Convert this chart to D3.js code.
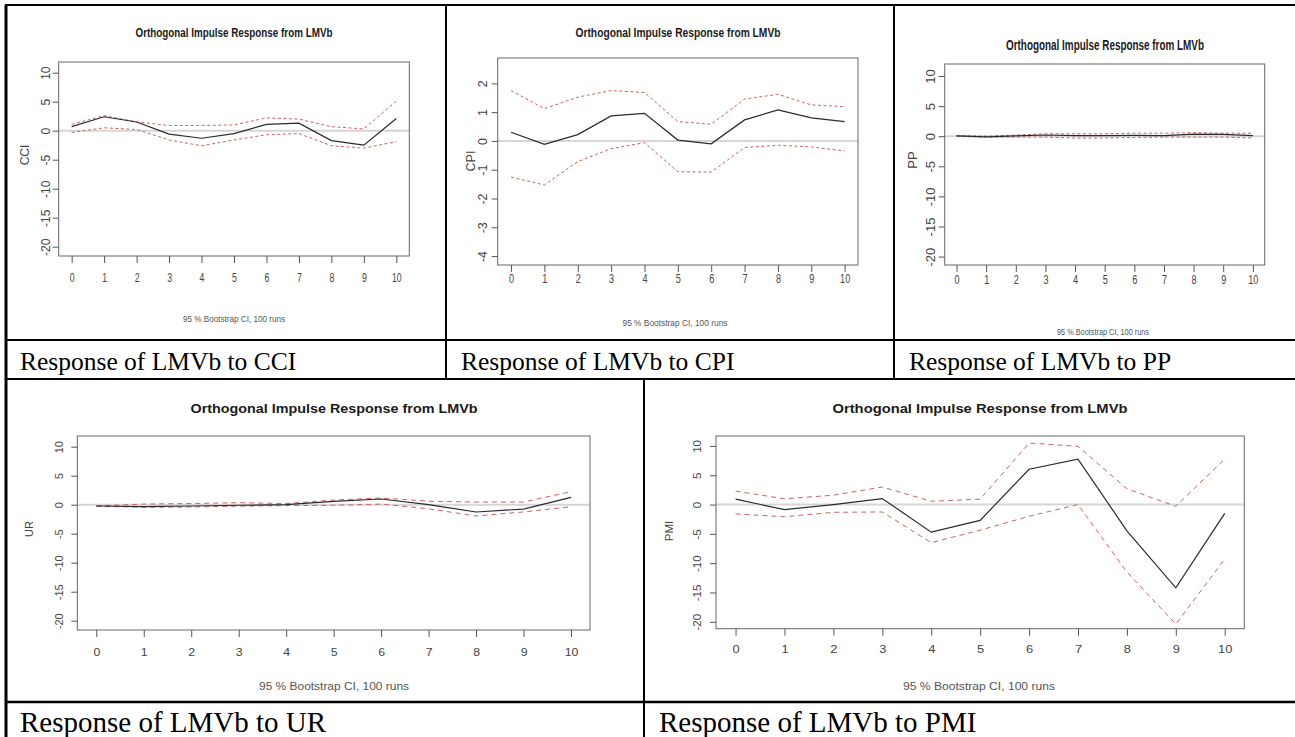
<!DOCTYPE html>
<html>
<head>
<meta charset="utf-8">
<script src="https://cdn.jsdelivr.net/npm/d3@7"></script>
<style>
  body { margin: 0; background: #fff; }
  svg { display: block; }
</style>
</head>
<body>
<svg id="chart" width="1295" height="737"></svg>
<script>
// impulse response horizons (x axis)
var horizon = [0, 1, 2, 3, 4, 5, 6, 7, 8, 9, 10];

// response of LMVb to CCI
var cciIrf   = [0.7, 2.4, 1.5, -0.6, -1.3, -0.5, 1.1, 1.3, -1.7, -2.5, 2.1];
var cciUpper = [1.1, 2.6, 1.5, 0.9, 0.9, 1.0, 2.2, 2.0, 0.7, 0.3, 5.1];
var cciLower = [-0.3, 0.5, 0.2, -1.6, -2.6, -1.6, -0.7, -0.5, -2.6, -3.0, -1.9];

// response of LMVb to CPI
var cpiIrf   = [0.30, -0.12, 0.22, 0.87, 0.96, 0.03, -0.10, 0.73, 1.08, 0.80, 0.67];
var cpiUpper = [1.75, 1.12, 1.52, 1.75, 1.68, 0.67, 0.58, 1.45, 1.62, 1.25, 1.19];
var cpiLower = [-1.26, -1.53, -0.72, -0.27, -0.06, -1.07, -1.08, -0.23, -0.15, -0.21, -0.35];

// response of LMVb to PP
var ppIrf   = [0.05, -0.1, 0.05, 0.2, 0.1, 0.1, 0.15, 0.1, 0.35, 0.3, 0.1];
var ppUpper = [0.1, 0.0, 0.2, 0.4, 0.4, 0.4, 0.5, 0.5, 0.6, 0.5, 0.5];
var ppLower = [0.0, -0.15, -0.15, -0.15, -0.3, -0.3, -0.2, -0.15, -0.15, -0.15, -0.3];

// response of LMVb to UR
var urIrf   = [-0.23, -0.34, -0.23, -0.1, 0.0, 0.57, 0.98, 0.0, -1.26, -0.75, 1.26];
var urUpper = [-0.2, 0.1, 0.2, 0.35, 0.2, 0.8, 1.15, 0.6, 0.45, 0.45, 2.25];
var urLower = [-0.25, -0.45, -0.4, -0.25, -0.15, -0.1, 0.1, -0.7, -1.95, -1.25, -0.35];

// response of LMVb to PMI
var pmiIrf   = [0.92, -0.86, 0.0, 1.03, -4.71, -2.70, 6.03, 7.76, -4.48, -14.2, -1.49];
var pmiUpper = [2.3, 0.98, 1.6, 3.0, 0.57, 0.92, 10.5, 9.94, 2.7, -0.29, 7.76];
var pmiLower = [-1.6, -2.07, -1.32, -1.26, -6.5, -4.37, -2.0, 0.0, -11.5, -20.4, -9.3];

// y tick labels
var wideTicks = [10, 5, 0, -5, -10, -15, -20];
var cpiTicks  = [2, 1, 0, -1, -2, -3, -4];

var plotTitle = "Orthogonal Impulse Response from LMVb";
var bootNote  = "95 % Bootstrap CI,  100 runs";

var svg = d3.select("#chart");
var sans = "'Liberation Sans', Arial, sans-serif";

// panel layout
var panels = [
  { name: "CCI", irf: cciIrf, upper: cciUpper, lower: cciLower, ticks: wideTicks,
    box: [58.7, 409.3, 62, 256], yDom: [-21.6, 11.84], sx: 0.73,
    title: [234, 37, 197, 13.5], xlab: [26, 12], ylab: [29, 155], ytOff: 9, boot: [234, 322, 102, 9],
    caption: "Response of LMVb to CCI", cap: [20, 370, 25.5], dash: "3,2.5" },
  { name: "CPI", irf: cpiIrf, upper: cpiUpper, lower: cpiLower, ticks: cpiTicks,
    box: [497.7, 858, 58, 265], yDom: [-4.31, 2.88], sx: 0.73,
    title: [678, 37, 205, 13.5], xlab: [17.5, 12.5], ylab: [475, 161], ytOff: 11, boot: [675, 326, 105, 9],
    caption: "Response of LMVb to CPI", cap: [461, 370, 25.5], dash: "3,2.5" },
  { name: "PP", irf: ppIrf, upper: ppUpper, lower: ppLower, ticks: wideTicks,
    box: [944.7, 1264.7, 64, 265], yDom: [-21.4, 12], sx: 0.7,
    title: [1105, 50, 198, 14], xlab: [19, 13], ylab: [917, 160], ytOff: 10, boot: [1103, 335, 92, 9],
    caption: "Response of LMVb to PP", cap: [909, 370, 25.5], dash: "3,2.5" },
  { name: "UR", irf: urIrf, upper: urUpper, lower: urLower, ticks: wideTicks,
    box: [77.3, 590, 436, 630], yDom: [-21.6, 11.84], sx: 1.12,
    title: [334, 413, 287, 12.5], xlab: [26, 11], ylab: [33, 529], ytOff: 14, boot: [334, 690, 150, 10],
    caption: "Response of LMVb to UR", cap: [20, 732, 29], dash: "5,4" },
  { name: "PMI", irf: pmiIrf, upper: pmiUpper, lower: pmiLower, ticks: wideTicks,
    box: [716, 1244.3, 436, 628.7], yDom: [-21.18, 11.7], sx: 1.12,
    title: [980, 413, 295, 12.5], xlab: [24.3, 11.5], ylab: [673, 531], ytOff: 15, boot: [979, 690, 152, 10],
    caption: "Response of LMVb to PMI", cap: [659, 732, 29], dash: "5,4" }
];

function drawPanel(p) {
  var g = svg.append("g").attr("class", "panel-" + p.name);

  var x = d3.scaleLinear().domain([-0.4, 10.4]).range([p.box[0], p.box[1]]);
  var y = d3.scaleLinear().domain(p.yDom).range([p.box[3], p.box[2]]);

  // zero reference line
  g.append("line")
    .attr("x1", p.box[0]).attr("x2", p.box[1])
    .attr("y1", y(0)).attr("y2", y(0))
    .attr("stroke", "#d6d6d6").attr("stroke-width", 2);

  var line = d3.line()
    .x(function(d, i) { return x(horizon[i]); })
    .y(function(d) { return y(d); });

  [p.upper, p.lower].forEach(function(s) {
    g.append("path").datum(s)
      .attr("d", line)
      .attr("fill", "none")
      .attr("stroke", "#c86464")
      .attr("stroke-width", 1)
      .attr("stroke-dasharray", p.dash);
  });

  g.append("path").datum(p.irf)
    .attr("d", line)
    .attr("fill", "none")
    .attr("stroke", "#2a2a2a")
    .attr("stroke-width", 1.2);

  // plot frame
  g.append("rect")
    .attr("x", p.box[0]).attr("y", p.box[2])
    .attr("width", p.box[1] - p.box[0]).attr("height", p.box[3] - p.box[2])
    .attr("fill", "none").attr("stroke", "#666").attr("stroke-width", 1);

  // x axis
  var xa = g.append("g")
    .attr("transform", "translate(0," + p.box[3] + ")")
    .call(d3.axisBottom(x).tickValues(horizon).tickSize(7).tickFormat(function(d) { return String(d); }));
  xa.select(".domain").remove();
  xa.selectAll("line").attr("stroke", "#555");
  xa.selectAll("text")
    .attr("y", 0).attr("dy", null)
    .attr("transform", "translate(0," + p.xlab[0] + ") scale(" + p.sx + ",1)")
    .attr("fill", "#444")
    .style("font-family", sans).style("font-size", p.xlab[1] + "px");

  // y axis, labels rotated like R
  var ya = g.append("g")
    .attr("transform", "translate(" + p.box[0] + ",0)")
    .call(d3.axisLeft(y).tickValues(p.ticks).tickSize(6).tickFormat(function(d) { return String(d); }));
  ya.select(".domain").remove();
  ya.selectAll("line").attr("stroke", "#555");
  ya.selectAll("text")
    .attr("x", null).attr("dy", null)
    .attr("text-anchor", "middle")
    .attr("transform", "translate(" + (-p.ytOff) + ",0) rotate(-90)")
    .attr("fill", "#444")
    .style("font-family", sans).style("font-size", p.xlab[1] + "px");

  g.append("text")
    .attr("transform", "translate(" + p.ylab[0] + "," + p.ylab[1] + ") rotate(-90)")
    .attr("text-anchor", "middle")
    .attr("fill", "#444")
    .style("font-family", sans).style("font-size", p.xlab[1] + "px")
    .text(p.name);

  g.append("text")
    .attr("x", p.title[0] - p.title[2] / 2).attr("y", p.title[1])
    .attr("textLength", p.title[2]).attr("lengthAdjust", "spacingAndGlyphs")
    .attr("fill", "#1a1a1a").attr("font-weight", "bold")
    .style("font-family", sans).style("font-size", p.title[3] + "px")
    .text(plotTitle);

  g.append("text")
    .attr("x", p.boot[0] - p.boot[2] / 2).attr("y", p.boot[1])
    .attr("textLength", p.boot[2]).attr("lengthAdjust", "spacingAndGlyphs")
    .attr("fill", "#555")
    .style("font-family", sans).style("font-size", p.boot[3] + "px")
    .text(bootNote);

  svg.append("text")
    .attr("x", p.cap[0]).attr("y", p.cap[1])
    .attr("fill", "#000")
    .style("font-family", "'Liberation Serif', 'Times New Roman', serif")
    .style("font-size", p.cap[2] + "px")
    .text(p.caption);
}

panels.forEach(drawPanel);

// table rules
var rules = [
  [5, 5, 1295, 5, 2],
  [6, 5, 6, 737, 3],
  [5, 340, 1295, 340, 2],
  [5, 379, 1295, 379, 2],
  [5, 702, 1295, 702, 2.5],
  [446, 5, 446, 379, 2],
  [894, 5, 894, 379, 2],
  [644, 379, 644, 737, 2]
];
svg.append("g").selectAll("line").data(rules).join("line")
  .attr("x1", function(d) { return d[0]; }).attr("y1", function(d) { return d[1]; })
  .attr("x2", function(d) { return d[2]; }).attr("y2", function(d) { return d[3]; })
  .attr("stroke", "#000").attr("stroke-width", function(d) { return d[4]; });
</script>
</body>
</html>
